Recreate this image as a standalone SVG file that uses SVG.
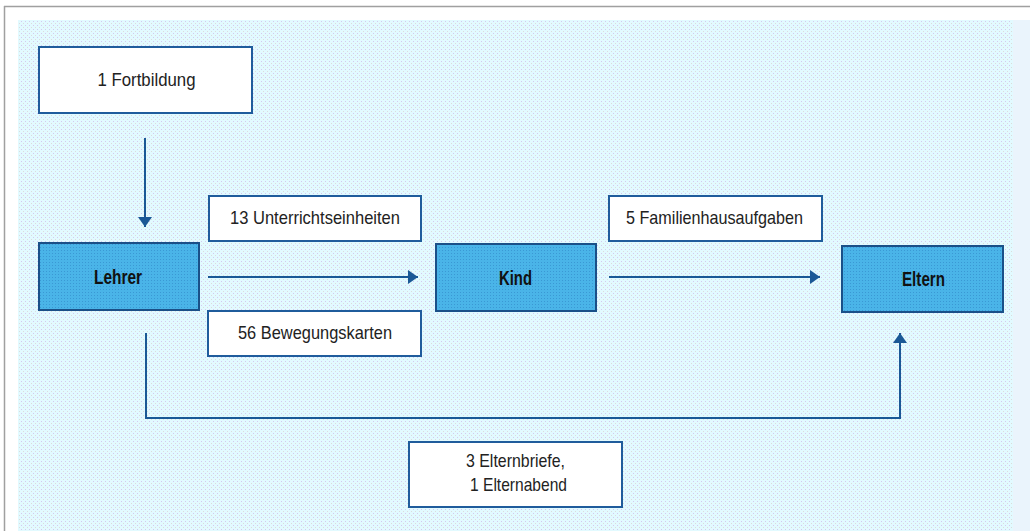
<svg xmlns="http://www.w3.org/2000/svg" width="1030" height="531" viewBox="0 0 1030 531">
<defs>
<pattern id="bgdots" x="0" y="0" width="4" height="4" patternUnits="userSpaceOnUse">
<rect width="4" height="4" fill="#e2faff"/>
<rect x="1" y="1" width="1" height="1" fill="#d4c9ef"/>
<rect x="3" y="3" width="1" height="1" fill="#dcdcdc"/>
</pattern>
<pattern id="nodedots" x="0" y="0" width="3" height="3" patternUnits="userSpaceOnUse">
<rect width="3" height="3" fill="#4ab4e8"/>
<rect x="1" y="1" width="1" height="1" fill="#3a98d4"/>
</pattern>
<marker id="arrow" viewBox="0 0 10 14" refX="10" refY="7" markerWidth="10" markerHeight="14" markerUnits="userSpaceOnUse" orient="auto">
<path d="M0,0 L10,7 L0,14 Z" fill="#1a5896"/>
</marker>
<style>
.label{fill:#ffffff;stroke:#1f5c9c;stroke-width:2}
.node{fill:url(#nodedots);stroke:#1a5088;stroke-width:2}
.lt{font-family:"Liberation Sans",Arial,sans-serif;font-size:19px;fill:#222222;text-anchor:middle}
.nt{font-family:"Liberation Sans",Arial,sans-serif;font-size:21px;font-weight:bold;fill:#111111;text-anchor:middle}
.conn{fill:none;stroke:#1a5896;stroke-width:2}
</style>
</defs>
<rect x="0" y="0" width="1030" height="531" fill="#ffffff"/>
<rect x="1013" y="20" width="17" height="511" fill="#eaf4fc"/>
<rect x="18" y="20" width="995" height="511" fill="url(#bgdots)"/>
<line x1="4" y1="6.5" x2="1030" y2="6.5" stroke="#a0a0a0" stroke-width="1.5"/>
<line x1="4.5" y1="6" x2="4.5" y2="531" stroke="#a0a0a0" stroke-width="1.5"/>

<g id="connectors">
<line class="conn" x1="145" y1="138" x2="145" y2="227" marker-end="url(#arrow)"/>
<line class="conn" x1="208" y1="277" x2="418" y2="277" marker-end="url(#arrow)"/>
<line class="conn" x1="609" y1="277" x2="820" y2="277" marker-end="url(#arrow)"/>
<polyline class="conn" points="146,333 146,418 900,418 900,333" marker-end="url(#arrow)"/>
</g>

<g id="fortbildung">
<rect class="label" x="39" y="47" width="213" height="66"/>
<text class="lt" x="146.5" y="86" textLength="98" lengthAdjust="spacingAndGlyphs">1 Fortbildung</text>
</g>
<g id="unterrichtseinheiten">
<rect class="label" x="209" y="196" width="212" height="45"/>
<text class="lt" x="315" y="224" textLength="170" lengthAdjust="spacingAndGlyphs">13 Unterrichtseinheiten</text>
</g>
<g id="bewegungskarten">
<rect class="label" x="208" y="311" width="213" height="45"/>
<text class="lt" x="315" y="339" textLength="154" lengthAdjust="spacingAndGlyphs">56 Bewegungskarten</text>
</g>
<g id="familienhausaufgaben">
<rect class="label" x="609" y="196" width="213" height="45"/>
<text class="lt" x="714.5" y="224" textLength="177" lengthAdjust="spacingAndGlyphs">5 Familienhausaufgaben</text>
</g>
<g id="elternbriefe">
<rect class="label" x="409" y="442" width="213" height="65"/>
<text class="lt" x="515.5" y="467" textLength="99" lengthAdjust="spacingAndGlyphs">3 Elternbriefe,</text>
<text class="lt" x="518.5" y="491" textLength="97" lengthAdjust="spacingAndGlyphs">1 Elternabend</text>
</g>
<g id="lehrer">
<rect class="node" x="39" y="243" width="160" height="67"/>
<text class="nt" x="118" y="284" textLength="48" lengthAdjust="spacingAndGlyphs">Lehrer</text>
</g>
<g id="kind">
<rect class="node" x="436" y="244" width="160" height="67"/>
<text class="nt" x="515.5" y="285" textLength="33" lengthAdjust="spacingAndGlyphs">Kind</text>
</g>
<g id="eltern">
<rect class="node" x="842" y="246" width="161" height="66"/>
<text class="nt" x="923.5" y="286" textLength="43" lengthAdjust="spacingAndGlyphs">Eltern</text>
</g>
</svg>
